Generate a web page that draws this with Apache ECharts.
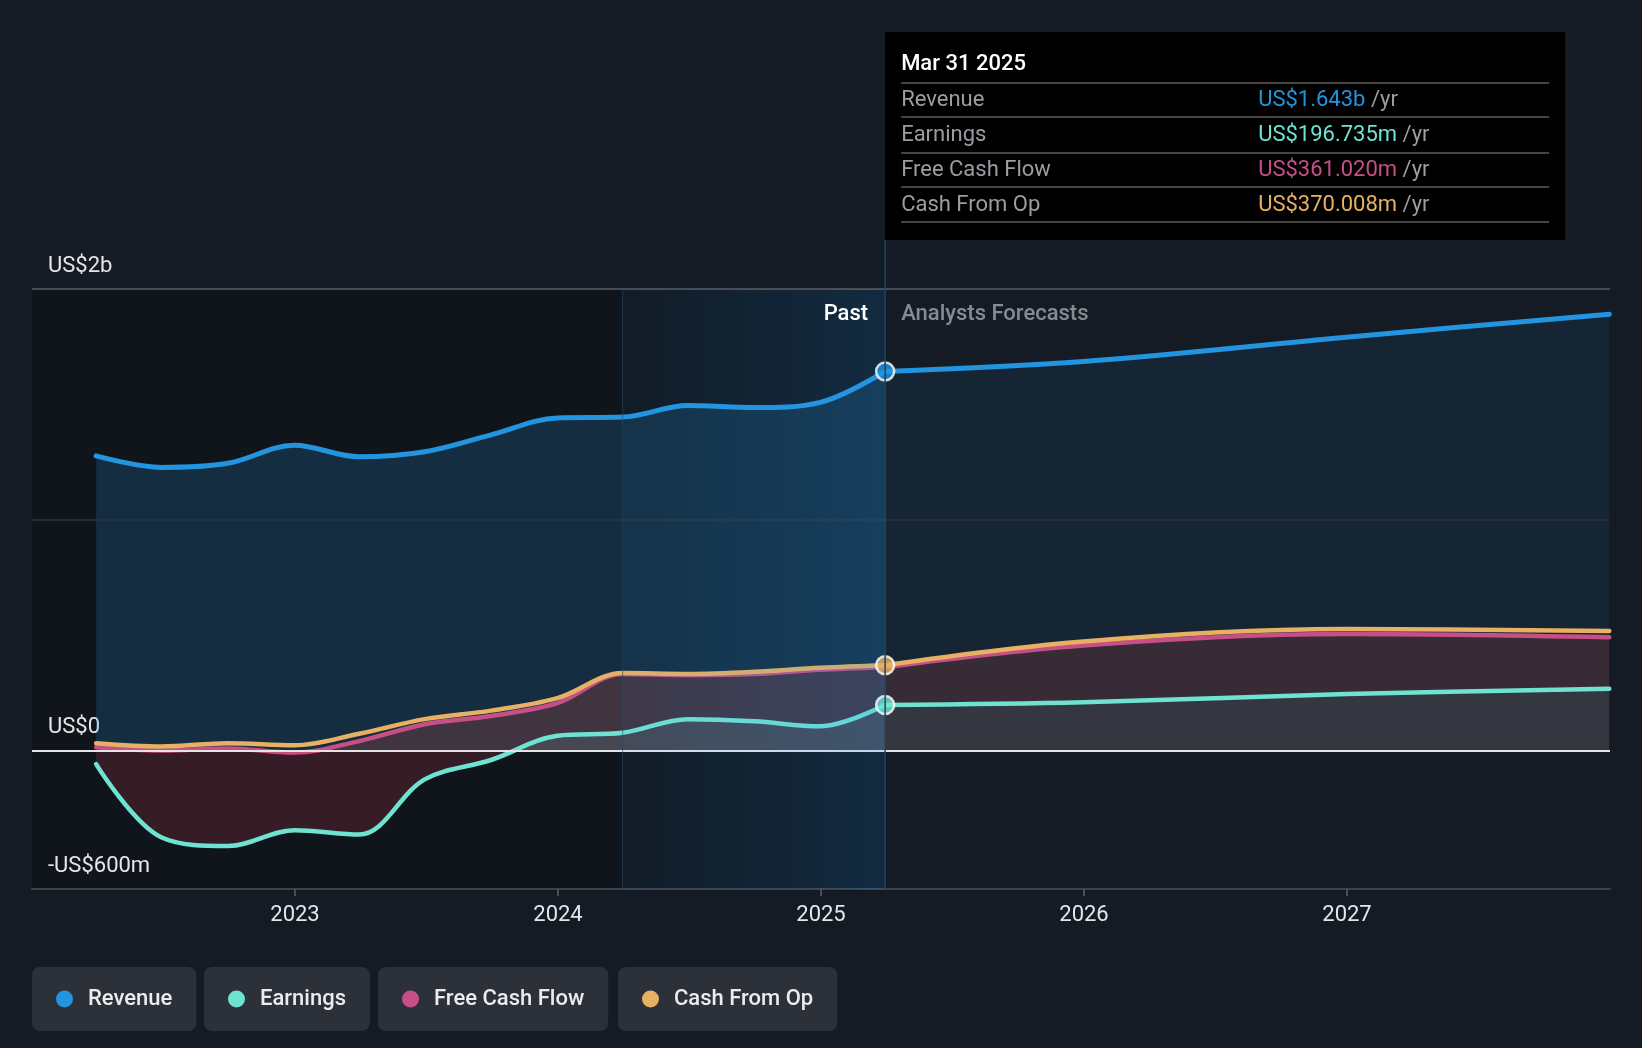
<!DOCTYPE html>
<html>
<head>
<meta charset="utf-8">
<script src="https://cdn.jsdelivr.net/npm/echarts@6/dist/echarts.min.js"></script>
<style>
html,body{margin:0;padding:0;background:#151b24;}
#c{width:1642px;height:1048px;}
</style>
</head>
<body>
<div id="c"></div>
<script>
// ---------- data (US$ millions) ----------
const pastDates = ['2022-03-31','2022-06-30','2022-09-30','2022-12-31','2023-03-31','2023-06-30','2023-09-30','2023-12-31','2024-03-31','2024-06-30','2024-09-30','2024-12-31','2025-03-31'];
const forecastDates = ['2025-03-31','2025-12-31','2026-12-31','2027-12-31'];

const revenuePast = [1277,1227,1245,1323,1273,1295,1368,1441,1445,1495,1486,1509,1643];
const revenueForecast = [1643,1686,1791,1891];

const earningsPast = [-59,-377,-414,-345,-364,-125,-41,64,77,136,127,105,197];
const earningsForecast = [197,209,245,268];

const fcfPast = [14,0,9,-9,41,114,150,205,332,327,332,350,361];
const fcfForecast = [361,455,505,491];

const cfoPast = [32,18,32,23,73,136,173,227,336,332,341,359,370];
const cfoForecast = [370,473,527,518];

const seriesNames = ['Revenue','Earnings','Free Cash Flow','Cash From Op'];
const yTickLabels = {'2000':'US$2b','0':'US$0','-600':'-US$600m'};
const xYearLabels = [2023,2024,2025,2026,2027];

const tipTitle = 'Mar 31 2025';
const tipRows = [
  ['Revenue','US$1.643b'],
  ['Earnings','US$196.735m'],
  ['Free Cash Flow','US$361.020m'],
  ['Cash From Op','US$370.008m']
];
const bandStartDate = '2024-03-31';
const dividerDate = '2025-03-31';

// ---------- helpers ----------
const C = {
  rev:'#2394df', earn:'#6fe3d2', fcf:'#c64f88', cfo:'#e8b062',
  bg:'#151b24', text:'#e6e6e6', grey:'#9a9da2'
};
const FONT = 'Roboto, "Noto Sans", sans-serif';
const FS = 22;
function decYear(s){
  const p = s.split('-').map(Number);
  const a = Date.UTC(p[0],0,1), b = Date.UTC(p[0]+1,0,1);
  return p[0] + (Date.UTC(p[0],p[1]-1,p[2]) - a)/(b-a);
}
const pastX = pastDates.map(decYear);
const fcX = forecastDates.map(decYear);
const pairs = (xs, vs) => xs.map((x,i)=>[x, vs[i]]);
const divX = decYear(dividerDate);
const bandX = decYear(bandStartDate);

function lineSeries(name, xs, vs, color, width, area, z){
  const s = {
    name, type:'line', data: pairs(xs, vs), smooth:0.35,
    showSymbol:false, symbol:'none', z: z || 2,
    lineStyle:{color, width, cap:'round', join:'round'},
    itemStyle:{color},
    emphasis:{disabled:true}, silent:true, animation:false
  };
  if (area) s.areaStyle = area;
  return s;
}

const chart = echarts.init(document.getElementById('c'), null, {renderer:'canvas'});

function earnGradient(zeroY, posCol, negCol){
  return new echarts.graphic.LinearGradient(0, zeroY-0.5, 0, zeroY+0.5, [
    {offset:0, color:posCol},{offset:0.5, color:posCol},
    {offset:0.5, color:negCol},{offset:1, color:negCol}
  ], true);
}

function buildOption(zeroY){
  return {
    backgroundColor: C.bg,
    animation:false,
    grid:{left:32, right:32, top:289, bottom:159},
    xAxis:{
      type:'value', min:2022, max:2028, interval:1,
      axisLine:{show:true, onZero:false, lineStyle:{color:'#3d424a', width:2}},
      axisTick:{show:true, length:7, customValues:xYearLabels, lineStyle:{color:'#4a4f57', width:2}},
      splitLine:{show:false},
      axisLabel:{
        color:C.text, fontSize:FS, fontFamily:FONT, margin:15,
        customValues:xYearLabels,
        formatter: v => String(Math.round(v))
      }
    },
    yAxis:{
      type:'value', min:-600, max:2000, interval:200,
      axisLine:{show:false}, axisTick:{show:false}, splitLine:{show:false},
      axisLabel:{
        inside:true, margin:16, color:C.text, fontSize:FS, fontFamily:FONT,
        verticalAlign:'bottom', lineHeight:22, padding:[0,0,12,0],
        formatter: v => yTickLabels[String(v)] || ''
      }
    },
    legend: seriesNames.map((n,i)=>({
      data:[{name:n, icon:'circle'}],
      left:[32,204,378,618][i], top:967,
      padding:[21,24,21,24], backgroundColor:'#2b3039', borderRadius:8,
      itemWidth:17, itemHeight:17, selectedMode:false,
      textStyle:{color:'#ececec', fontSize:FS, fontWeight:500, fontFamily:FONT, padding:[0,0,0,10], lineHeight:20}
    })),
    series:[
      {type:'line', data:[], z:0, silent:true, animation:false,
        markArea:{silent:true, z:0, itemStyle:{color:'rgba(0,0,0,0.22)'},
          data:[[{xAxis:2022},{xAxis:divX}]]}},
      lineSeries('Revenue', pastX, revenuePast, C.rev, 5, {color:'rgba(35,148,223,0.27)'}, 2),
      lineSeries('Revenue', fcX, revenueForecast, C.rev, 5, {color:'rgba(35,148,223,0.13)'}, 2),
      lineSeries('Free Cash Flow', pastX, fcfPast, C.fcf, 4.5, {color:'rgba(230,80,70,0.30)'}, 3),
      lineSeries('Free Cash Flow', fcX, fcfForecast, C.fcf, 4.5, {color:'rgba(230,80,70,0.23)'}, 3),
      lineSeries('Cash From Op', pastX, cfoPast, C.cfo, 4.5, null, 3),
      lineSeries('Cash From Op', fcX, cfoForecast, C.cfo, 4.5, null, 3),
      lineSeries('Earnings', pastX, earningsPast, C.earn, 4.5,
        {color: earnGradient(zeroY,'rgba(90,150,160,0.28)','rgba(230,60,80,0.25)')}, 4),
      lineSeries('Earnings', fcX, earningsForecast, C.earn, 4.5,
        {color: earnGradient(zeroY,'rgba(40,110,120,0.22)','rgba(230,60,80,0.25)')}, 4),
      {type:'line', data:[], z:5, silent:true, animation:false,
        markLine:{silent:true, symbol:'none', label:{show:false}, animation:false,
          data:[
            {yAxis:2000, lineStyle:{color:'#474c54', width:2, type:'solid'}},
            {yAxis:1000, lineStyle:{color:'#2c323b', width:1.5, type:'solid'}},
            {yAxis:0, lineStyle:{color:'#e4e4e4', width:2, type:'solid'}}
          ]}},
      {type:'line', data:[], z:10, silent:true, animation:false,
        markArea:{silent:true, z:10,
          itemStyle:{color:new echarts.graphic.LinearGradient(0,0,1,0,[
            {offset:0,color:'rgba(33,150,243,0.05)'},{offset:1,color:'rgba(33,150,243,0.17)'}])},
          data:[[{xAxis:bandX},{xAxis:divX}]]}},
      {type:'scatter', z:20, silent:true, animation:false, symbolSize:18,
        itemStyle:{borderColor:'#ffffff', borderWidth:2.5},
        data:[
          {value:[divX, revenuePast[revenuePast.length-1]], itemStyle:{color:C.rev}},
          {value:[divX, cfoPast[cfoPast.length-1]], itemStyle:{color:C.cfo}},
          {value:[divX, earningsPast[earningsPast.length-1]], itemStyle:{color:C.earn}}
        ]}
    ]
  };
}

chart.setOption(buildOption(750));
const zeroY = chart.convertToPixel({yAxisIndex:0}, 0);
const xDiv = chart.convertToPixel({xAxisIndex:0}, divX);
const xBand = chart.convertToPixel({xAxisIndex:0}, bandX);
const plotTop = chart.convertToPixel({yAxisIndex:0}, 2000);
const plotBottom = chart.convertToPixel({yAxisIndex:0}, -600);
const opt = buildOption(zeroY);

const boxX = xDiv, boxY = 32, boxW = 680, boxH = 208;
const g = [];
g.push({type:'line', silent:true, z:50,
  shape:{x1:xDiv, y1:boxY+boxH, x2:xDiv, y2:plotBottom},
  style:{stroke:'#1f4563', lineWidth:1.5}});
g.push({type:'line', silent:true, z:50,
  shape:{x1:xBand, y1:plotTop, x2:xBand, y2:plotBottom},
  style:{stroke:'rgba(40,70,95,0.6)', lineWidth:1}});
g.push({type:'rect', silent:true, z:60, shape:{x:boxX, y:boxY, width:boxW, height:boxH}, style:{fill:'#000000'}});
g.push({type:'text', silent:true, z:61, x:boxX+16, y:64,
  style:{text:tipTitle, fill:'#ffffff', fontSize:FS, fontWeight:500, fontFamily:FONT, verticalAlign:'middle', align:'left'}});
const sepY = [83,117,153,187,222];
sepY.forEach(y=>g.push({type:'line', silent:true, z:61,
  shape:{x1:boxX+16, y1:y, x2:boxX+boxW-16, y2:y}, style:{stroke:'#454545', lineWidth:2}}));
const rowY = [100,135,170,205];
const rowCol = [C.rev, C.earn, C.fcf, C.cfo];
tipRows.forEach((r,i)=>{
  g.push({type:'text', silent:true, z:61, x:boxX+16, y:rowY[i],
    style:{text:r[0], fill:C.grey, fontSize:FS, fontFamily:FONT, verticalAlign:'middle', align:'left'}});
  g.push({type:'text', silent:true, z:61, x:boxX+373, y:rowY[i],
    style:{text:'{v|'+r[1]+'} {u|/yr}', fontSize:FS, fontFamily:FONT, verticalAlign:'middle', align:'left',
      rich:{v:{fill:rowCol[i], fontSize:FS, fontFamily:FONT}, u:{fill:C.grey, fontSize:FS, fontFamily:FONT}}}});
});
g.push({type:'text', silent:true, z:61, x:xDiv-17, y:314,
  style:{text:'Past', fill:'#ffffff', fontSize:FS, fontWeight:500, fontFamily:FONT, align:'right', verticalAlign:'middle'}});
g.push({type:'text', silent:true, z:61, x:xDiv+16, y:314,
  style:{text:'Analysts Forecasts', fill:'#878b91', fontSize:FS, fontWeight:500, fontFamily:FONT, align:'left', verticalAlign:'middle'}});
opt.graphic = {elements:g};
chart.setOption(opt, true);
</script>
</body>
</html>
